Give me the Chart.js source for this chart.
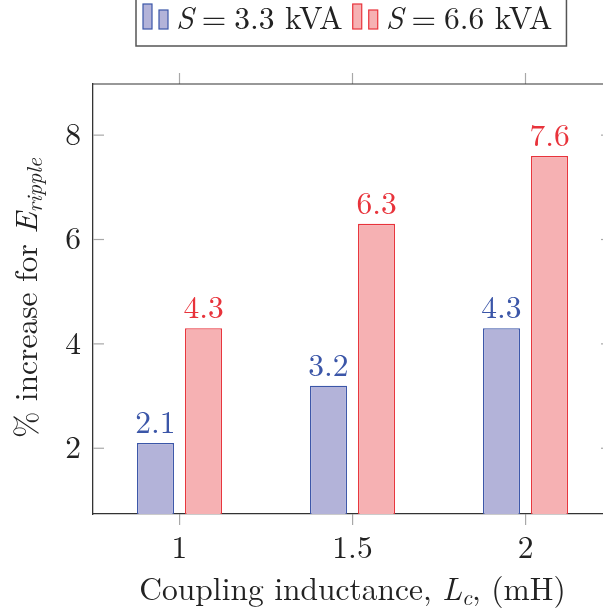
<!DOCTYPE html>
<html>
<head>
<meta charset="utf-8">
<script src="https://cdn.jsdelivr.net/npm/chart.js@4"></script>
<style>
html,body{margin:0;padding:0;background:#fff;overflow:hidden;}
#wrap{position:absolute;left:0;top:0;width:625px;height:615px;}
</style>
</head>
<body>
<div id="wrap"><canvas id="chart" width="625" height="615"></canvas></div>
<script>
// Data
const inductances=["1","1.5","2"];
const increase33=[2.1,3.2,4.3];
const increase66=[4.3,6.3,7.6];
const seriesValues=["3.3 kVA","6.6 kVA"];
const yTicks=[2,4,6,8];

// Style
const serif='"Latin Modern Roman", "Liberation Serif", serif';
const fs=31.5;
const rm=`${fs}px ${serif}`, it=`italic ${fs}px ${serif}`, sub=`italic 22px ${serif}`;
const tickGray="#a8a8a8";
const axisColor="#333";
const textColor="#222";
const blue={fill:"#b3b3d9",line:"#3b56a8"};
const red={fill:"#f6b1b3",line:"#e8333b"};

// Text helpers: runs of pieces in mixed fonts (a piece may be just a gap)
function pieceWidth(ctx,p){
  if(p.gap) return p.gap;
  ctx.font=p.font;return ctx.measureText(p.text).width;
}
function runWidth(ctx,parts){
  return parts.reduce((w,p)=>w+pieceWidth(ctx,p),0);
}
function drawRun(ctx,parts,x,y,color){
  ctx.save();
  ctx.fillStyle=color;ctx.textAlign="left";ctx.textBaseline="alphabetic";
  let cx=x;
  parts.forEach(p=>{
    if(!p.gap){ctx.font=p.font;ctx.fillText(p.text,cx,y+(p.dy||0));}
    cx+=pieceWidth(ctx,p);
  });
  ctx.restore();
}
function line(ctx,x1,y1,x2,y2){ctx.beginPath();ctx.moveTo(x1,y1);ctx.lineTo(x2,y2);ctx.stroke();}

// Frame, extra ticks, value labels, axis titles and legend
const decor={
  id:"decor",
  afterDatasetsDraw(chart){
    const ctx=chart.ctx;
    chart.data.datasets.forEach((ds,i)=>{
      chart.getDatasetMeta(i).data.forEach((bar,j)=>{
        const parts=[{text:ds.data[j].toFixed(1),font:rm}];
        const w=runWidth(ctx,parts);
        drawRun(ctx,parts,bar.x-w/2,bar.y-10,ds.borderColor);
      });
    });
  },
  afterDraw(chart){
    const ctx=chart.ctx;
    const {left,right,top,bottom}=chart.chartArea;
    const xs=chart.scales.x, ys=chart.scales.y;
    ctx.save();
    ctx.lineWidth=1.2;
    ctx.strokeStyle=tickGray;
    xs.ticks.forEach((t,i)=>{const px=xs.getPixelForTick(i);line(ctx,px,top-11,px,top);});
    yTicks.forEach(v=>{const py=ys.getPixelForValue(v);line(ctx,left,py,left+11,py);line(ctx,right-11,py,right,py);});
    ctx.strokeStyle=axisColor;
    line(ctx,left,top,right,top);
    line(ctx,right,top,right,bottom);

    // x title
    const xt=[{text:"Coupling inductance, ",font:rm},{text:"L",font:it},{text:"c",font:sub,dy:5},{text:", (mH)",font:rm}];
    const xw=runWidth(ctx,xt);
    drawRun(ctx,xt,(left+right)/2-xw/2,600,textColor);

    // y title
    const yt=[{text:"% increase for ",font:rm},{text:"E",font:it},{text:"ripple",font:sub,dy:5}];
    const yw=runWidth(ctx,yt);
    ctx.save();
    ctx.translate(37,(top+bottom)/2-1);ctx.rotate(-Math.PI/2);
    drawRun(ctx,yt,-yw/2,0,textColor);
    ctx.restore();

    // legend
    let cx=136;
    const styles=[blue,red];
    seriesValues.forEach((s,i)=>{
      const st=styles[i];
      ctx.fillStyle=st.fill;ctx.strokeStyle=st.line;ctx.lineWidth=1.2;
      ctx.fillRect(cx+7,4,9,25);ctx.strokeRect(cx+7,4,9,25);
      ctx.fillRect(cx+23,10,9,19);ctx.strokeRect(cx+23,10,9,19);
      const parts=[{text:"S",font:it},{gap:8},{text:"=",font:rm},{gap:8},{text:s,font:rm}];
      drawRun(ctx,parts,cx+40,29,textColor);
      cx+=40+runWidth(ctx,parts)+3;
    });
    ctx.strokeStyle="#555";ctx.lineWidth=1.5;
    ctx.strokeRect(136,-5,cx+11-136,51);
    ctx.restore();
  }
};

const chart=new Chart(document.getElementById("chart"),{
  type:"bar",
  data:{
    labels:inductances,
    datasets:[
      {label:"S = "+seriesValues[0],data:increase33,backgroundColor:blue.fill,borderColor:blue.line,borderWidth:1.3,categoryPercentage:0.555,barPercentage:0.77},
      {label:"S = "+seriesValues[1],data:increase66,backgroundColor:red.fill,borderColor:red.line,borderWidth:1.3,categoryPercentage:0.555,barPercentage:0.77}
    ]
  },
  options:{
    responsive:false,
    animation:false,
    layout:{padding:{top:84,right:13,left:0,bottom:0}},
    plugins:{legend:{display:false},tooltip:{enabled:false}},
    scales:{
      x:{
        grid:{display:true,drawOnChartArea:false,drawTicks:true,tickLength:11,color:tickGray,lineWidth:1.2,offset:false},
        border:{display:true,color:axisColor,width:1.3},
        ticks:{font:{family:serif,size:fs},color:textColor,padding:4},
        afterFit:s=>{s.height=101;}
      },
      y:{
        min:0.74,max:8.98,
        afterBuildTicks:s=>{s.ticks=yTicks.map(v=>({value:v}));},
        grid:{display:false,drawTicks:false},
        border:{display:true,color:axisColor,width:1.3},
        ticks:{font:{family:serif,size:fs},color:textColor,padding:12},
        afterFit:s=>{s.width=93;}
      }
    }
  },
  plugins:[decor]
});
</script>
</body>
</html>
